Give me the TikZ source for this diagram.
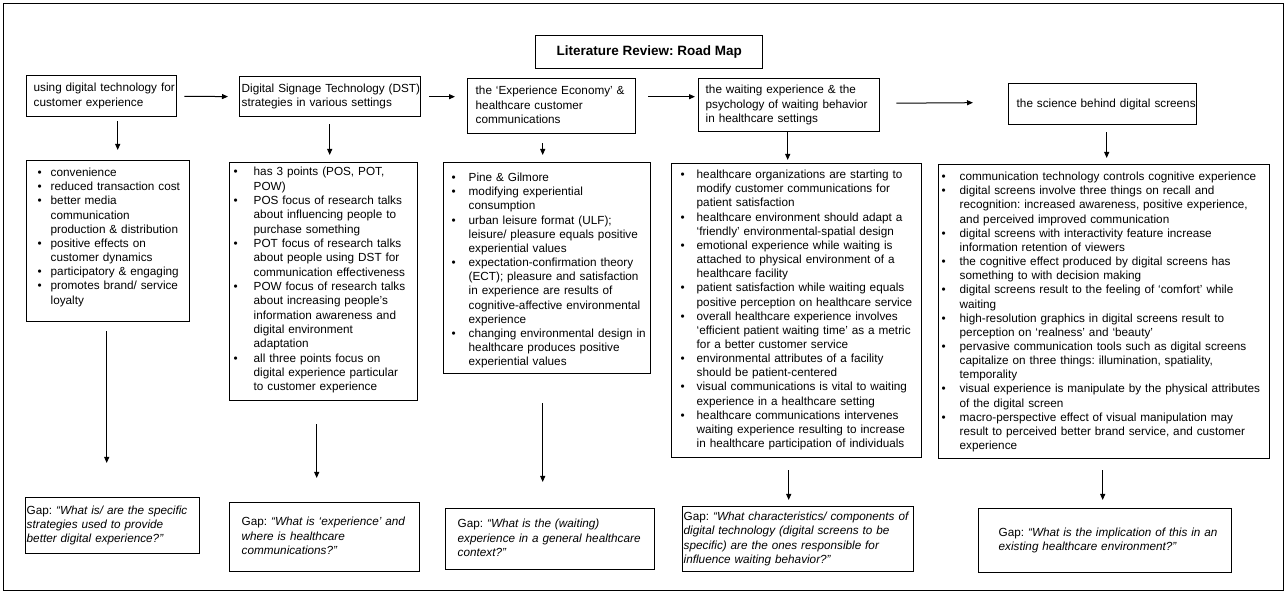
\documentclass[tikz,border=0pt]{standalone}
\usepackage{fontspec}
\setmainfont{Liberation Sans}
\usepackage{tikz}
\usetikzlibrary{arrows.meta,calc}
\frenchspacing

\begin{document}
\begin{tikzpicture}[x=1pt,y=-1pt,
    box/.style={draw,line width=1.4pt,anchor=north west,align=left,
        font=\fontsize{11.75}{14.15}\selectfont},
    arr/.style={line width=1pt,-{Triangle[length=6pt,width=5pt]}}]

    \useasboundingbox (0,0) rectangle (1286,593);
    \draw[line width=0.8pt] (3,3) rectangle (1283,590);

    \node[box,align=center,font=\bfseries\fontsize{13.5}{16}\selectfont,
        minimum width=227pt,minimum height=33pt] (title) at (535,35)
        {Literature Review: Road Map};

    % topics
    \node[box,inner xsep=7pt,text width=136pt,minimum height=41pt] (b1) at (26,75)
        {\begin{tabular}{@{}l@{}}using digital technology for\\customer experience\end{tabular}};
    \node[box,inner xsep=2pt,text width=177pt,minimum height=40pt] (b2) at (239,76)
        {\begin{tabular}{@{}l@{}}Digital Signage Technology (DST)\\strategies in various settings\end{tabular}};
    \node[box,inner xsep=8pt,text width=152pt,minimum height=55pt] (b3) at (467,78)
        {\begin{tabular}{@{}l@{}}the ‘Experience Economy’ \&\\healthcare customer\\communications\end{tabular}};
    \node[box,inner xsep=7pt,text width=167pt,minimum height=53pt] (b4) at (698,78)
        {\begin{tabular}{@{}l@{}}the waiting experience \& the\\psychology of waiting behavior\\in healthcare settings\end{tabular}};
    \node[box,inner xsep=8pt,text width=172pt,minimum height=41pt] (b5) at (1008,83)
        {\begin{tabular}{@{}l@{}}the science behind digital screens\end{tabular}};

    % findings
    \node[box,inner xsep=11pt,inner ysep=0pt,text width=141pt,text height=16pt,
        text depth=145pt] (l1) at (26,160)
        {\begin{tabular}[t]{@{}p{13pt}@{}l@{}}
        \textbullet & convenience\\
        \textbullet & reduced transaction cost\\
        \textbullet & better media\\
        & communication\\
        & production \& distribution\\
        \textbullet & positive effects on\\
        & customer dynamics\\
        \textbullet & participatory \& engaging\\
        \textbullet & promotes brand/ service\\
        & loyalty
        \end{tabular}};
    \node[box,inner xsep=4pt,inner ysep=0pt,text width=180pt,text height=13pt,
        text depth=225pt] (l2) at (229,162)
        {\renewcommand{\arraystretch}{1.013}\begin{tabular}[t]{@{}p{20pt}@{}l@{}}
        \textbullet & has 3 points (POS, POT,\\
        & POW)\\
        \textbullet & POS focus of research talks\\
        & about influencing people to\\
        & purchase something\\
        \textbullet & POT focus of research talks\\
        & about people using DST for\\
        & communication effectiveness\\
        \textbullet & POW focus of research talks\\
        & about increasing people’s\\
        & information awareness and\\
        & digital environment\\
        & adaptation\\
        \textbullet & all three points focus on\\
        & digital experience particular\\
        & to customer experience
        \end{tabular}};
    \node[box,inner xsep=8pt,inner ysep=0pt,text width=191pt,text height=19pt,
        text depth=192pt] (l3) at (443,162)
        {\begin{tabular}[t]{@{}p{17pt}@{}l@{}}
        \textbullet & Pine \& Gilmore\\
        \textbullet & modifying experiential\\
        & consumption\\
        \textbullet & urban leisure format (ULF);\\
        & leisure/ pleasure equals positive\\
        & experiential values\\
        \textbullet & expectation-confirmation theory\\
        & (ECT); pleasure and satisfaction\\
        & in experience are results of\\
        & cognitive-affective environmental\\
        & experience\\
        \textbullet & changing environmental design in\\
        & healthcare produces positive\\
        & experiential values
        \end{tabular}};
    \node[box,inner xsep=9pt,inner ysep=0pt,text width=232pt,text height=15pt,
        text depth=279pt] (l4) at (671,163)
        {\begin{tabular}[t]{@{}p{16pt}@{}l@{}}
        \textbullet & healthcare organizations are starting to\\
        & modify customer communications for\\
        & patient satisfaction\\
        \textbullet & healthcare environment should adapt a\\
        & ‘friendly’ environmental-spatial design\\
        \textbullet & emotional experience while waiting is\\
        & attached to physical environment of a\\
        & healthcare facility\\
        \textbullet & patient satisfaction while waiting equals\\
        & positive perception on healthcare service\\
        \textbullet & overall healthcare experience involves\\
        & ‘efficient patient waiting time’ as a metric\\
        & for a better customer service\\
        \textbullet & environmental attributes of a facility\\
        & should be patient-centered\\
        \textbullet & visual communications is vital to waiting\\
        & experience in a healthcare setting\\
        \textbullet & healthcare communications intervenes\\
        & waiting experience resulting to increase\\
        & in healthcare participation of individuals
        \end{tabular}};
    \node[box,inner xsep=3pt,inner ysep=0pt,text width=325pt,text height=16pt,
        text depth=278pt] (l5) at (938,164)
        {\begin{tabular}[t]{@{}p{18pt}@{}l@{}}
        \textbullet & communication technology controls cognitive experience\\
        \textbullet & digital screens involve three things on recall and\\
        & recognition: increased awareness, positive experience,\\
        & and perceived improved communication\\
        \textbullet & digital screens with interactivity feature increase\\
        & information retention of viewers\\
        \textbullet & the cognitive effect produced by digital screens has\\
        & something to with decision making\\
        \textbullet & digital screens result to the feeling of ‘comfort’ while\\
        & waiting\\
        \textbullet & high-resolution graphics in digital screens result to\\
        & perception on ‘realness’ and ‘beauty’\\
        \textbullet & pervasive communication tools such as digital screens\\
        & capitalize on three things: illumination, spatiality,\\
        & temporality\\
        \textbullet & visual experience is manipulate by the physical attributes\\
        & of the digital screen\\
        \textbullet & macro-perspective effect of visual manipulation may\\
        & result to perceived better brand service, and customer\\
        & experience
        \end{tabular}};

    % gaps
    \node[box,inner xsep=1pt,text width=172pt,minimum height=56pt] (g1) at (25,497)
        {\begin{tabular}{@{}l@{}}Gap: \itshape “What is/ are the specific\\
        \itshape strategies used to provide\\\itshape better digital experience?”\end{tabular}};
    \node[box,inner xsep=12pt,text width=166pt,minimum height=69pt] (g2) at (229,502)
        {\begin{tabular}{@{}l@{}}Gap: \itshape “What is ‘experience’ and\\
        \itshape where is healthcare\\\itshape communications?”\end{tabular}};
    \node[box,inner xsep=12pt,text width=185pt,minimum height=61pt] (g3) at (445,508)
        {\begin{tabular}{@{}l@{}}Gap: \itshape “What is the (waiting)\\
        \itshape experience in a general healthcare\\\itshape context?”\end{tabular}};
    \node[box,inner xsep=1pt,text width=229pt,minimum height=65pt] (g4) at (682,506)
        {\begin{tabular}{@{}l@{}}Gap: \itshape “What characteristics/ components of\\
        \itshape digital technology (digital screens to be\\
        \itshape specific) are the ones responsible for\\
        \itshape influence waiting behavior?”\end{tabular}};
    \node[box,inner xsep=20pt,text width=213pt,minimum height=64pt] (g5) at (978,508)
        {\begin{tabular}{@{}l@{}}Gap: \itshape “What is the implication of this in an\\
        \itshape existing healthcare environment?”\end{tabular}};

    % road
    \draw[arr,shorten <=7pt,shorten >=11pt] (b1.east) -- (b2.west);
    \draw[arr,shorten <=8pt,shorten >=12pt] (b2.east) -- (b2.east -| b3.west);
    \draw[arr] ($(b3.east)+(12,-9.5)$) -- ($(b4.west)+(-3,-8.5)$);
    \draw[arr] ($(b4.east)+(16,-2)$) -- ($(b5.west)+(-35,-1.5)$);

    \draw[arr] ($(b1.south)+(16,4)$) -- ($(l1.north)+(9.5,-10)$);
    \draw[arr] ($(b2.south)+(-0.5,7)$) -- ($(l2.north)+(6,-7)$);
    \draw[arr] ($(b3.south)+(-9,9)$) -- ($(l3.north)+(-4.5,-7)$);
    \draw[arr] ($(b4.south)+(-1.5,0)$) -- ($(l4.north)+(-9,-3)$);
    \draw[arr] ($(b5.south)+(4,7)$) -- ($(l5.north)+(2.5,-6)$);

    \draw[arr] ($(l1.south)+(-1.5,9)$) -- ($(g1.north)+(-6,-34)$);
    \draw[arr] ($(l2.south)+(-7,23)$) -- ($(g2.north)+(-8,-24)$);
    \draw[arr] ($(l3.south)+(-4.5,29)$) -- ($(g3.north)+(-7.5,-26)$);
    \draw[arr] ($(l4.south)+(-8,12)$) -- ($(g4.north)+(-9.5,-6)$);
    \draw[arr] ($(l5.south)+(-1.5,11)$) -- ($(g5.north)+(-2.5,-8)$);

\end{tikzpicture}
\end{document}
